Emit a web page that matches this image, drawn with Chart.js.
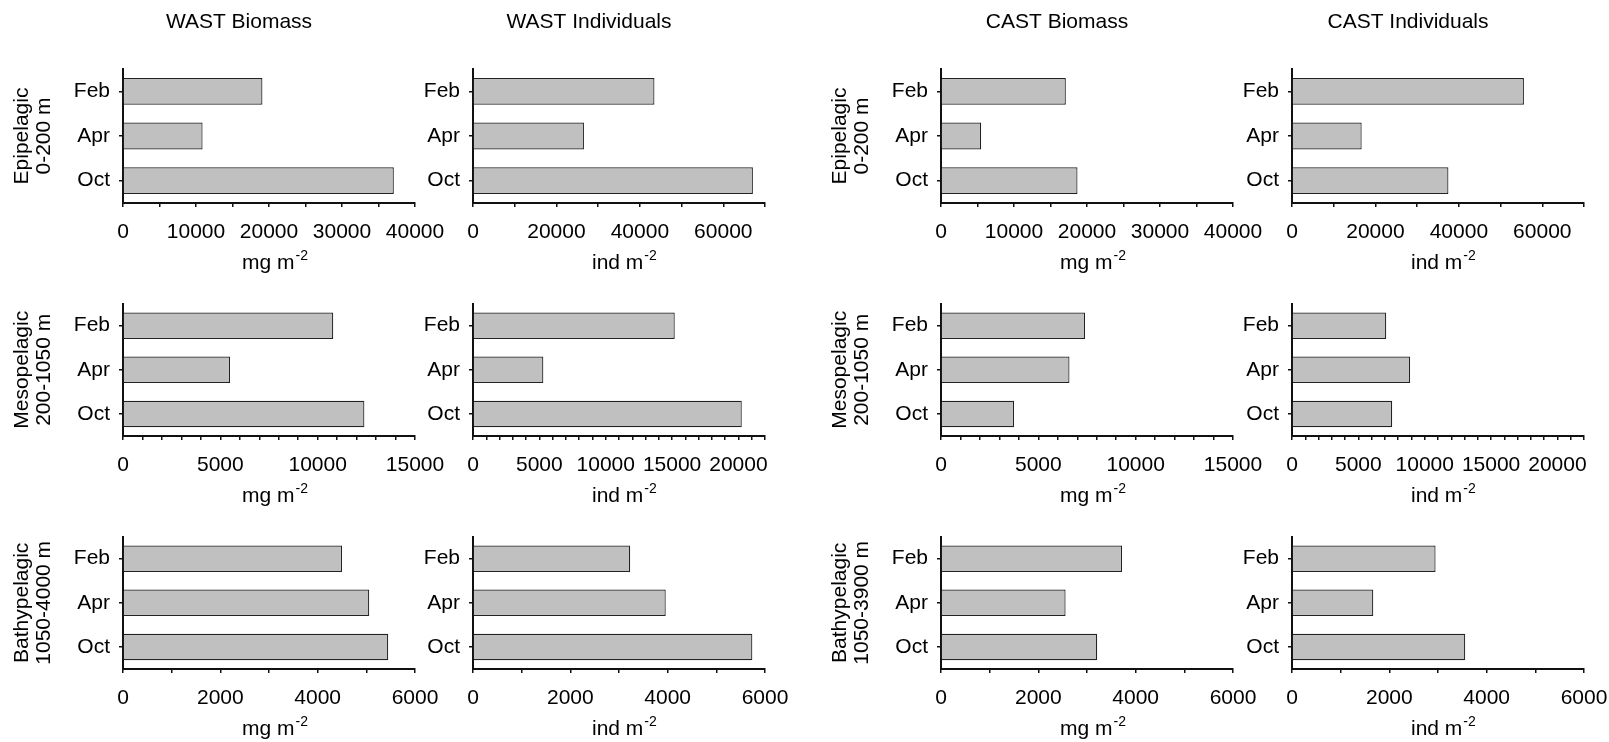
<!DOCTYPE html>
<html>
<head>
<meta charset="utf-8">
<script src="https://cdn.jsdelivr.net/npm/chart.js@4.4.0/dist/chart.umd.min.js"></script>
<style>
  html, body { margin: 0; padding: 0; background: #fff; }
  body { width: 1609px; height: 742px; position: relative; overflow: hidden; }
  canvas { position: absolute; }
</style>
</head>
<body>
<script>
const months = ['Feb', 'Apr', 'Oct'];
const columnTitles = ['WAST Biomass', 'WAST Individuals', 'CAST Biomass', 'CAST Individuals'];
const unitLabels = ['mg m', 'ind m', 'mg m', 'ind m'];
const wastZones = [['Epipelagic', '0-200 m'], ['Mesopelagic', '200-1050 m'], ['Bathypelagic', '1050-4000 m']];
const castZones = [['Epipelagic', '0-200 m'], ['Mesopelagic', '200-1050 m'], ['Bathypelagic', '1050-3900 m']];

// values per month (Feb, Apr, Oct)
const epiWastBiomass = [19100, 10900, 37100];
const epiWastIndiv = [43500, 26600, 67100];
const epiCastBiomass = [17100, 5500, 18700];
const epiCastIndiv = [55600, 16700, 37500];

const mesoWastBiomass = [10800, 5500, 12400];
const mesoWastIndiv = [15200, 5300, 20250];
const mesoCastBiomass = [7400, 6600, 3750];
const mesoCastIndiv = [7100, 8900, 7550];

const bathyWastBiomass = [4500, 5060, 5450];
const bathyWastIndiv = [3230, 3960, 5740];
const bathyCastBiomass = [3720, 2560, 3210];
const bathyCastIndiv = [2950, 1670, 3560];

// x axis ranges per row: biomass / individuals
const biomassMax = [40000, 15000, 6000];
const indivMax = [70000, 22000, 6000];
const biomassStep = [5000, 1000, 1000];
const indivStep = [10000, 1000, 1000];
const biomassLabelStep = [10000, 5000, 2000];
const indivLabelStep = [20000, 5000, 2000];

const FONT = '"Liberation Sans", Arial, Helvetica, sans-serif';
const AXIS_COLOR = '#111';
const PANEL_W = 480;
const AXIS_OFFSET = 124;
const PLOT_W = 292;
const PLOT_H = 134;
const X_AXIS_H = 72;
const colLeft = [-1, 349, 817, 1168];
const rowTop = [0, 282, 515];
const padTop = [69, 20, 20];

// column titles on top row and x axis title with superscript
const panelText = {
  id: 'panelText',
  afterDraw(chart, args, opts) {
    const { ctx, chartArea } = chart;
    ctx.save();
    ctx.fillStyle = '#000';
    ctx.textBaseline = 'alphabetic';
    if (opts.title) {
      ctx.font = '21px ' + FONT;
      ctx.textAlign = 'center';
      ctx.fillText(opts.title, chart.width / 2, 28);
    }
    ctx.textAlign = 'left';
    ctx.font = '21px ' + FONT;
    const w1 = ctx.measureText(opts.unit).width;
    const cx = (chartArea.left + chartArea.right) / 2;
    const x0 = cx - 27;
    const y = chartArea.bottom + 66;
    ctx.fillText(opts.unit, x0, y);
    ctx.font = '14px ' + FONT;
    ctx.fillText('-2', x0 + w1 + 1, y - 9);
    ctx.restore();
  }
};

function makePanel(row, col, values, xMax, step, labelStep, zone) {
  const canvas = document.createElement('canvas');
  const h = padTop[row] + PLOT_H + X_AXIS_H;
  canvas.width = PANEL_W;
  canvas.height = h;
  canvas.style.left = colLeft[col] + 'px';
  canvas.style.top = rowTop[row] + 'px';
  canvas.style.width = PANEL_W + 'px';
  canvas.style.height = h + 'px';
  document.body.appendChild(canvas);

  new Chart(canvas, {
    type: 'bar',
    data: {
      labels: months,
      datasets: [{
        data: values,
        backgroundColor: '#c0c0c0',
        borderColor: '#222',
        borderWidth: 1.2,
        barPercentage: 0.6,
        categoryPercentage: 1
      }]
    },
    options: {
      indexAxis: 'y',
      responsive: false,
      animation: false,
      layout: { padding: { left: 0, right: PANEL_W - AXIS_OFFSET - PLOT_W, top: padTop[row], bottom: 0 } },
      plugins: {
        legend: { display: false },
        tooltip: { enabled: false },
        panelText: { title: row === 0 ? columnTitles[col] : null, unit: unitLabels[col] }
      },
      scales: {
        x: {
          type: 'linear',
          min: 0,
          max: xMax,
          afterFit: s => { s.height = X_AXIS_H; },
          border: { display: true, color: AXIS_COLOR, width: 2 },
          grid: { drawOnChartArea: false, drawTicks: true, tickLength: 4, lineWidth: 1.5, color: AXIS_COLOR },
          ticks: {
            stepSize: step,
            autoSkip: false,
            maxRotation: 0,
            padding: 13,
            color: '#000',
            font: { family: FONT, size: 21 },
            callback: v => (v % labelStep === 0 ? String(v) : '')
          }
        },
        y: {
          type: 'category',
          afterFit: s => { s.width = AXIS_OFFSET; },
          border: { display: true, color: AXIS_COLOR, width: 2 },
          grid: { drawOnChartArea: false, offset: false, tickLength: 4, lineWidth: 1.5, color: AXIS_COLOR },
          ticks: { padding: 9, color: '#000', font: { family: FONT, size: 21 } },
          title: zone
            ? { display: true, text: zone, color: '#000', font: { family: FONT, size: 21, lineHeight: 1.05 }, padding: { top: 12, bottom: 0 } }
            : { display: false }
        }
      }
    },
    plugins: [panelText]
  });
}

const rows = [
  [epiWastBiomass, epiWastIndiv, epiCastBiomass, epiCastIndiv],
  [mesoWastBiomass, mesoWastIndiv, mesoCastBiomass, mesoCastIndiv],
  [bathyWastBiomass, bathyWastIndiv, bathyCastBiomass, bathyCastIndiv]
];

rows.forEach((vals, r) => {
  makePanel(r, 0, vals[0], biomassMax[r], biomassStep[r], biomassLabelStep[r], wastZones[r]);
  makePanel(r, 1, vals[1], indivMax[r], indivStep[r], indivLabelStep[r], null);
  makePanel(r, 2, vals[2], biomassMax[r], biomassStep[r], biomassLabelStep[r], castZones[r]);
  makePanel(r, 3, vals[3], indivMax[r], indivStep[r], indivLabelStep[r], null);
});
</script>
</body>
</html>
